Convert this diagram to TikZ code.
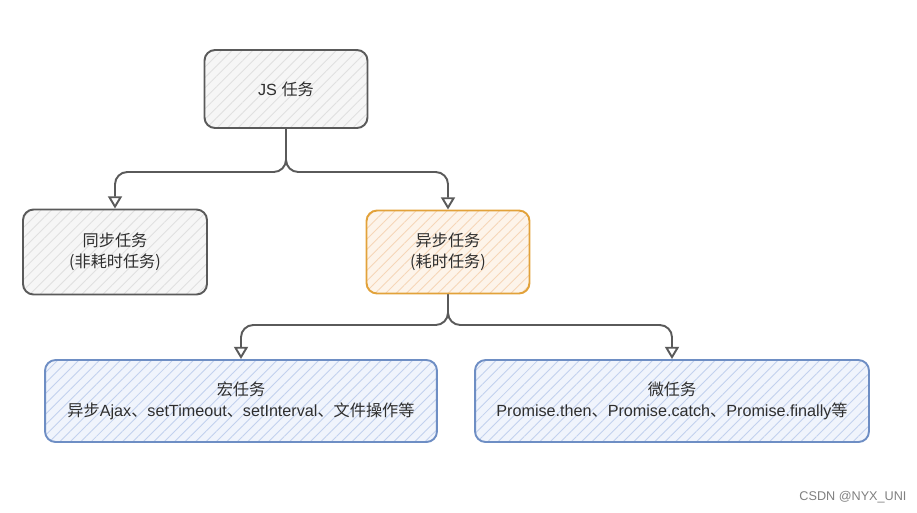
\documentclass[tikz,border=0pt]{standalone}
\usepackage{fontspec}
\setmainfont{Liberation Sans}
\newfontfamily\cjk{Noto Sans CJK SC}
\usetikzlibrary{arrows.meta,patterns.meta}

\definecolor{grauRand}{HTML}{5A5A5A}
\definecolor{grauFill}{HTML}{F6F6F6}
\definecolor{grauHatch}{HTML}{E0E0E0}
\definecolor{orangeRand}{HTML}{E2A23A}
\definecolor{orangeFill}{HTML}{FDF4EA}
\definecolor{orangeHatch}{HTML}{F6D6B8}
\definecolor{blauRand}{HTML}{6E8EC4}
\definecolor{blauFill}{HTML}{F0F4FC}
\definecolor{blauHatch}{HTML}{C2D1EE}
\definecolor{textGrau}{HTML}{2E2E2E}

\tikzset{
	taskbox/.style={
		rectangle,
		rounded corners=6pt,
		line width=1.1pt,
		align=center,
		text=textGrau,
		font=\fontsize{9.2}{12}\selectfont,
		pattern={Lines[angle=45,distance=4.2pt,line width=0.5pt]}
	},
	graybox/.style={
		taskbox,
		preaction={fill=grauFill},
		pattern color=grauHatch,
		draw=grauRand
	},
	orangebox/.style={
		taskbox,
		preaction={fill=orangeFill},
		pattern color=orangeHatch,
		draw=orangeRand
	},
	bluebox/.style={
		taskbox,
		preaction={fill=blauFill},
		pattern color=blauHatch,
		draw=blauRand
	},
	link/.style={
		draw=grauRand,
		line width=1.1pt,
		rounded corners=7pt,
		-{Triangle[open,length=7pt,width=8pt]}
	}
}

\begin{document}
\begin{tikzpicture}[x=0.02cm,y=-0.02cm]
	\useasboundingbox (0,0) rectangle (917,512);
	% JS 任务
	\node[
		graybox,
		minimum width=3.26cm,
		minimum height=1.56cm
	] (js) at (286,89) {JS {\cjk 任务}};
	% 同步任务
	\node[
		graybox,
		minimum width=3.68cm,
		minimum height=1.70cm
	] (sync) at (115,252) {{\cjk 同步任务}\\{\cjk (非耗时任务)}};
	% 异步任务
	\node[
		orangebox,
		minimum width=3.26cm,
		minimum height=1.66cm
	] (async) at (448,252) {{\cjk 异步任务}\\{\cjk (耗时任务)}};
	% 宏任务
	\node[
		bluebox,
		minimum width=7.84cm,
		minimum height=1.64cm
	] (macro) at (241,401) {{\cjk 宏任务}\\{\cjk 异步}Ajax{\cjk 、}setTimeout{\cjk 、}setInterval{\cjk 、文件操作等}};
	% 微任务
	\node[
		bluebox,
		minimum width=7.88cm,
		minimum height=1.64cm
	] (micro) at (672,401) {{\cjk 微任务}\\Promise.then{\cjk 、}Promise.catch{\cjk 、}Promise.finally{\cjk 等}};
	% Verzweigungen
	\coordinate (fork1) at (286,172);
	\coordinate (fork2) at (448,325);
	\draw[link] (js.south) -- (fork1) -| (sync.north);
	\draw[link] (js.south) -- (fork1) -| (async.north);
	\draw[link] (async.south) -- (fork2) -| (macro.north);
	\draw[link] (async.south) -- (fork2) -| (micro.north);
	% Wasserzeichen
	\node[
		text=gray,
		font=\fontsize{7.2}{9}\selectfont
	] (mark) at (853,497) {CSDN @NYX\_UNI};
\end{tikzpicture}
\end{document}
